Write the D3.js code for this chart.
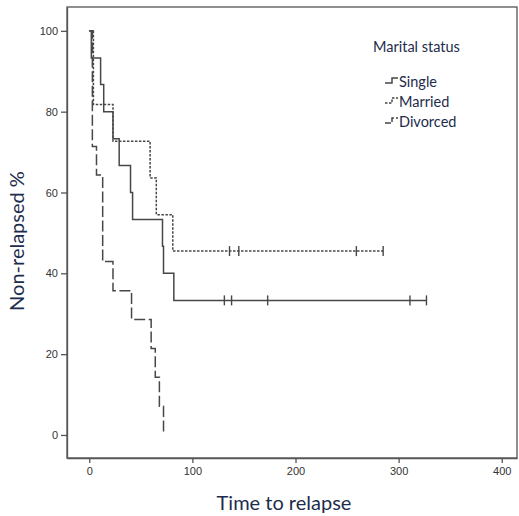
<!DOCTYPE html>
<html>
<head>
<meta charset="utf-8">
<script src="https://cdn.jsdelivr.net/npm/d3@7"></script>
<style>
  html, body { margin: 0; padding: 0; background: #fff; }
  svg { display: block; }
</style>
</head>
<body>
<svg id="chart" width="519" height="516"></svg>
<script>
// ---- data ----
const groups = ["Single", "Married", "Divorced"];

const singleTimes   = [0, 2, 11, 14, 23, 29, 40, 42, 71, 72, 82, 327];
const singleSurv    = [100, 93.3, 86.7, 80, 73.3, 66.7, 60, 53.3, 46.7, 40, 33.3, 33.3];
const singleCensor  = [131, 138, 173, 311, 327];

const marriedTimes  = [0, 4, 23, 59, 65, 81, 285];
const marriedSurv   = [100, 81.8, 72.7, 63.6, 54.5, 45.5, 45.5];
const marriedCensor = [136, 145, 259, 285];

const divorcedTimes  = [0, 3, 7, 13, 23, 41, 60, 64, 68, 72];
const divorcedSurv   = [100, 71.4, 64.3, 42.9, 35.7, 28.6, 21.4, 14.3, 7.1, 0];
const divorcedCensor = [];

const xTicks = [0, 100, 200, 300, 400];
const yTicks = [0, 20, 40, 60, 80, 100];

// ---- layout ----
const svg = d3.select("#chart");
const mLeft = 67, mRight = 517, mTop = 7, mBottom = 458;

const x = d3.scaleLinear().domain([-21.6, 414.8]).range([mLeft, mRight]);
const y = d3.scaleLinear().domain([-5.7, 105.9]).range([mBottom, mTop]);

const lineColor = "#474747";
const styles = {
  Single:   { dash: null,   width: 1.5 },
  Married:  { dash: "2.5,1.5", width: 1.5 },
  Divorced: { dash: "11,3.5", width: 1.5 }
};

const series = [
  { name: "Single",   t: singleTimes,   s: singleSurv,   c: singleCensor },
  { name: "Married",  t: marriedTimes,  s: marriedSurv,  c: marriedCensor },
  { name: "Divorced", t: divorcedTimes, s: divorcedSurv, c: divorcedCensor }
];

// frame
svg.append("rect")
  .attr("x", mLeft).attr("y", mTop)
  .attr("width", mRight - mLeft).attr("height", mBottom - mTop)
  .attr("fill", "none").attr("stroke", "#555").attr("stroke-width", 1.3);

// axes
const xAxis = d3.axisBottom(x).tickValues(xTicks).tickSize(5).tickSizeOuter(0).tickPadding(4);
const gx = svg.append("g").attr("transform", `translate(0,${mBottom})`).call(xAxis);
const yAxis = d3.axisLeft(y).tickValues(yTicks).tickSize(6).tickSizeOuter(0).tickPadding(3);
const gy = svg.append("g").attr("transform", `translate(${mLeft},0)`).call(yAxis);
[gx, gy].forEach(g => {
  g.select(".domain").attr("stroke", "#555").attr("stroke-width", 1.3);
  g.selectAll(".tick line").attr("stroke", "#555").attr("stroke-width", 1.3);
  g.selectAll(".tick text")
    .attr("fill", "#333")
    .style("font-family", "'Liberation Sans', Arial, sans-serif")
    .style("font-size", "11px");
});

// curves
const line = d3.line()
  .x(d => x(d[0])).y(d => y(d[1]))
  .curve(d3.curveStepAfter);

series.forEach(sr => {
  const pts = sr.t.map((t, i) => [t, sr.s[i]]);
  const st = styles[sr.name];
  svg.append("path")
    .datum(pts)
    .attr("d", line)
    .attr("fill", "none")
    .attr("stroke", lineColor)
    .attr("stroke-width", st.width)
    .attr("stroke-dasharray", st.dash);
  // censor marks
  const level = sr.s[sr.s.length - 1];
  svg.selectAll(null).data(sr.c).enter().append("line")
    .attr("x1", d => x(d)).attr("x2", d => x(d))
    .attr("y1", y(level) - 5).attr("y2", y(level) + 5)
    .attr("stroke", lineColor).attr("stroke-width", 1.4);
});

// legend
const textColor = "#1d2c4c";
const font = "Lato, 'Open Sans', sans-serif";
svg.append("text")
  .attr("x", 373).attr("y", 52)
  .attr("fill", textColor)
  .style("font-family", font).style("font-size", "14.5px")
  .text("Marital status");

const legY = [84, 104, 124];
groups.forEach((g, i) => {
  const st = styles[g];
  const yy = legY[i];
  svg.append("path")
    .attr("d", `M385,${yy - 1} h7 v-5 h6`)
    .attr("fill", "none").attr("stroke", lineColor)
    .attr("stroke-width", 1.5)
    .attr("stroke-dasharray", g === "Divorced" ? "6,2" : st.dash);
  svg.append("text")
    .attr("x", 399).attr("y", yy + 3)
    .attr("fill", textColor)
    .style("font-family", font).style("font-size", "14.5px")
    .text(g);
});

// axis titles
svg.append("text")
  .attr("x", 284).attr("y", 510)
  .attr("text-anchor", "middle")
  .attr("fill", textColor)
  .style("font-family", font).style("font-size", "20px")
  .text("Time to relapse");

svg.append("text")
  .attr("transform", "translate(24,241) rotate(-90)")
  .attr("text-anchor", "middle")
  .attr("fill", textColor)
  .style("font-family", font).style("font-size", "20px")
  .text("Non-relapsed %");
</script>
</body>
</html>
